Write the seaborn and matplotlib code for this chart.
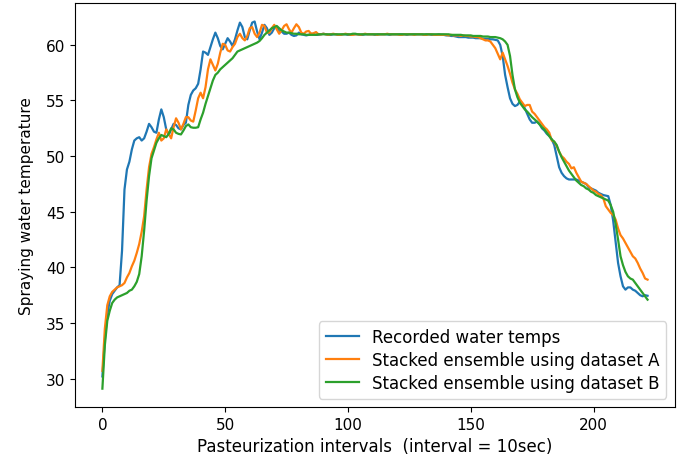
import pandas as pd
import seaborn as sns
import matplotlib.pyplot as plt

# Recorded spraying water temperature, one value per 10 sec interval
recorded = [
    30.2, 33.5, 35.8, 37.0, 37.6, 37.9, 38.2, 38.4, 41.5, 47.0,
    48.8, 49.5, 50.6, 51.4, 51.6, 51.7, 51.4, 51.6, 52.2, 52.9,
    52.6, 52.2, 52.1, 53.3, 54.2, 53.5, 52.4, 51.9, 52.4, 52.9,
    52.8, 52.5, 52.4, 52.8, 53.0, 54.6, 55.5, 55.9, 56.1, 56.5,
    57.8, 59.4, 59.3, 59.1, 59.8, 60.5, 61.1, 60.6, 59.9, 59.6,
    60.1, 60.6, 60.3, 59.9, 60.5, 61.3, 62.0, 61.6, 60.7, 60.5,
    61.3, 62.0, 62.1, 61.2, 60.5, 61.1, 61.8, 61.5, 60.9, 61.1,
    61.5, 61.6, 61.2, 61.2, 61.0, 61.0, 61.1, 60.9, 60.8, 60.85,
    61.1, 60.95, 60.9, 60.85, 60.9, 61.0, 60.95, 60.9, 60.9, 60.95,
    61.0, 60.95, 60.9, 60.9, 60.95, 60.95, 60.9, 60.9, 60.95, 60.95,
    60.9, 60.9, 60.95, 60.95, 60.95, 60.9, 60.9, 60.95, 60.95, 60.95,
    60.95, 60.9, 60.95, 60.95, 60.95, 60.95, 60.95, 60.9, 60.95, 60.95,
    60.95, 60.95, 60.95, 60.95, 60.9, 60.95, 60.95, 60.95, 60.95, 60.95,
    60.95, 60.9, 60.95, 60.95, 60.9, 60.9, 60.9, 60.95, 60.9, 60.9,
    60.85, 60.85, 60.8, 60.8, 60.75, 60.7, 60.7, 60.7, 60.7, 60.65,
    60.65, 60.65, 60.6, 60.6, 60.6, 60.55, 60.55, 60.55, 60.5, 60.5,
    60.45, 60.4, 60.0, 59.0, 57.3, 56.2, 55.2, 54.7, 54.5, 54.6,
    54.9, 54.7, 54.3, 53.8, 53.3, 53.0, 53.0, 53.1, 52.9, 52.5,
    52.3, 52.0, 51.8, 51.5, 51.0, 50.0, 49.0, 48.5, 48.2, 48.0,
    47.9, 47.9, 47.9, 47.9, 47.8, 47.7, 47.6, 47.5, 47.2, 47.1,
    47.0, 46.9, 46.7, 46.6, 46.5, 46.45, 46.4, 45.6, 44.2, 42.3,
    40.4, 39.2, 38.3, 38.0, 38.2, 38.2, 38.0, 37.9, 37.7, 37.5,
    37.4, 37.5, 37.45,
]

# Stacked ensemble predictions, dataset A
dataset_a = [
    30.7, 34.5, 36.6, 37.4, 37.8, 38.0, 38.2, 38.3, 38.4, 38.6,
    39.1, 39.5, 40.1, 40.6, 41.3, 42.1, 43.2, 44.6, 47.0, 49.0,
    50.2, 50.8, 51.5, 52.1, 51.4, 51.6, 52.4, 52.0, 51.6, 52.6,
    53.4, 53.0, 52.4, 52.9, 53.5, 53.5, 53.2, 53.1, 54.1, 55.2,
    55.7, 55.2, 56.2, 57.8, 58.7, 58.2, 57.7, 58.3, 59.3, 60.1,
    60.0, 59.5, 59.4, 59.8, 60.1, 60.7, 61.0, 60.6, 60.4, 60.8,
    61.5, 61.6, 61.0, 60.7, 61.1, 61.8, 61.7, 61.1, 61.1, 61.5,
    61.8, 61.4, 61.0, 61.3, 61.7, 61.85, 61.4, 61.1, 61.5, 61.85,
    61.6, 61.1, 61.0, 61.2, 61.25, 61.0, 61.05, 61.15, 60.95, 60.95,
    61.0, 60.95, 60.9, 60.95, 61.0, 60.95, 60.9, 60.9, 60.95, 61.0,
    60.95, 60.9, 60.9, 60.95, 60.95, 60.9, 60.95, 61.0, 60.95, 60.95,
    60.95, 60.95, 60.9, 60.95, 60.95, 60.95, 61.0, 60.95, 60.95, 60.95,
    60.95, 60.9, 60.9, 60.95, 60.95, 60.95, 60.95, 60.9, 60.95, 60.95,
    60.95, 60.9, 60.9, 60.95, 60.95, 60.9, 60.9, 60.9, 60.9, 60.9,
    60.9, 60.85, 60.9, 60.85, 60.85, 60.85, 60.8, 60.85, 60.8, 60.8,
    60.75, 60.75, 60.7, 60.7, 60.6, 60.5, 60.4, 60.4, 60.3, 60.0,
    59.7, 59.2, 58.7, 59.3, 58.7, 58.1, 57.4, 56.6, 56.0, 55.6,
    55.1, 54.8, 54.5, 54.6, 54.6, 54.0, 53.8, 53.5, 53.2, 52.9,
    52.6, 52.4, 52.1, 51.4, 51.3, 50.9, 50.4, 50.0, 49.8, 49.5,
    49.3, 48.9, 49.0, 48.5, 48.1, 47.7, 47.6, 47.5, 47.3, 47.1,
    46.9, 46.8, 46.6, 46.5, 46.2, 45.5, 45.2, 44.9, 44.7, 44.3,
    43.5, 42.9, 42.6, 42.2, 41.8, 41.4, 41.0, 40.8, 40.4, 39.9,
    39.5, 39.0, 38.9,
]

# Stacked ensemble predictions, dataset B
dataset_b = [
    29.1, 33.0, 35.2, 36.1, 36.8, 37.1, 37.3, 37.4, 37.5, 37.6,
    37.7, 37.9, 38.0, 38.3, 38.7, 39.4, 41.0, 43.3, 46.0, 48.2,
    49.8, 50.5, 51.2, 51.6, 51.9, 51.8, 51.7, 52.0, 52.5, 52.4,
    52.1, 52.0, 51.95, 52.3, 52.7, 52.85, 52.6, 52.55, 52.55, 52.6,
    53.3, 53.9, 54.7, 55.4, 56.1, 56.8, 57.3, 57.5, 57.8, 58.0,
    58.2, 58.4, 58.6, 58.8, 59.1, 59.4, 59.5, 59.6, 59.7, 59.8,
    59.9, 60.0, 60.1, 60.2, 60.35, 60.6, 60.9, 61.1, 61.3, 61.5,
    61.6, 61.7, 61.5, 61.3, 61.2, 61.1, 61.1, 61.05, 61.0, 61.0,
    60.95, 60.95, 60.95, 60.9, 60.9, 60.9, 60.9, 60.9, 60.95, 60.95,
    60.95, 60.95, 60.95, 60.95, 60.95, 60.95, 60.95, 60.95, 60.95, 60.95,
    60.95, 60.95, 61.0, 61.0, 60.95, 60.95, 60.95, 60.95, 60.95, 60.95,
    60.95, 60.95, 60.95, 60.95, 60.95, 60.95, 60.95, 60.95, 60.95, 60.95,
    60.95, 60.95, 60.95, 60.95, 60.95, 60.95, 60.95, 60.95, 60.95, 60.95,
    60.95, 60.95, 60.95, 60.95, 60.95, 60.95, 60.95, 60.95, 60.95, 60.95,
    60.95, 60.95, 60.9, 60.9, 60.9, 60.9, 60.9, 60.85, 60.85, 60.85,
    60.85, 60.8, 60.8, 60.8, 60.8, 60.75, 60.75, 60.75, 60.7, 60.7,
    60.7, 60.65, 60.6, 60.5, 60.3, 60.0, 59.0, 57.3, 56.0, 55.3,
    54.8, 54.5, 54.2, 54.0, 53.75, 53.5, 53.3, 53.1, 52.85, 52.6,
    52.4, 52.1, 51.8, 51.5, 51.3, 51.0, 50.4, 49.9, 49.5, 49.1,
    48.7, 48.4, 48.1, 47.8, 47.6, 47.4, 47.3, 47.1, 47.0, 46.8,
    46.7, 46.5, 46.4, 46.3, 46.2, 46.1, 46.0, 45.6, 45.0, 43.9,
    42.5, 41.0, 40.2, 39.6, 39.2, 39.0, 38.9, 38.6, 38.3, 38.0,
    37.7, 37.4, 37.1,
]

intervals = list(range(len(recorded)))

series = [
    ('Recorded water temps', recorded),
    ('Stacked ensemble using dataset A', dataset_a),
    ('Stacked ensemble using dataset B', dataset_b),
]

fig, ax = plt.subplots(figsize=(6.83, 4.6), dpi=100)
fig.subplots_adjust(left=0.110, right=0.988, bottom=0.113, top=0.991)

palette = sns.color_palette('tab10')
for i, (label, values) in enumerate(series):
    df = pd.DataFrame({'interval': intervals, 'temp': values})
    sns.lineplot(data=df, x='interval', y='temp', label=label,
                 color=palette[i], linewidth=1.6, ax=ax)

ax.tick_params(labelsize=11)
ax.set_xlabel('Pasteurization intervals  (interval = 10sec)', fontsize=12)
ax.set_ylabel('Spraying water temperature', fontsize=11, labelpad=9)
ax.legend(loc='lower right', fontsize=12, labelspacing=0.3)

plt.savefig('out.png')
